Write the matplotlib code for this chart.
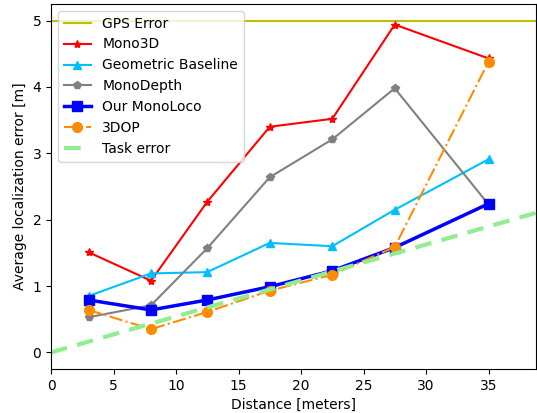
import numpy as np
import matplotlib
matplotlib.use("Agg")
import matplotlib.pyplot as plt

dist = [3, 8, 12.5, 17.5, 22.5, 27.5, 35]
mono3d = [1.51, 1.08, 2.27, 3.40, 3.52, 4.94, 4.43]
geometric = [0.85, 1.19, 1.21, 1.65, 1.60, 2.15, 2.91]
monodepth = [0.53, 0.71, 1.57, 2.64, 3.21, 3.98, 2.23]
monoloco = [0.79, 0.64, 0.79, 0.99, 1.23, 1.58, 2.24]
dop3 = [0.64, 0.35, 0.61, 0.93, 1.17, 1.59, 4.38]
gps_err = 5.0
task_slope = 0.0542

fig = plt.figure(figsize=(5.37, 4.13), dpi=100)
ax = fig.add_axes([51/537, 44/413, 485/537, 365/413])

xx = np.array([0, 40])
ax.axhline(gps_err, color='y', lw=1.5, label='GPS Error')
ax.plot(dist, mono3d, color='r', marker='*', ms=6, lw=1.5, label='Mono3D')
ax.plot(dist, geometric, color='deepskyblue', marker='^', ms=6, lw=1.5, label='Geometric Baseline')
ax.plot(dist, monodepth, color='grey', marker='p', ms=6, lw=1.5, label='MonoDepth')
ax.plot(dist, monoloco, color='b', marker='s', ms=7, lw=2.5, label='Our MonoLoco')
ax.plot(dist, dop3, color='darkorange', marker='o', ms=7, lw=1.5, ls='-.', label='3DOP')
ax.plot(xx, task_slope * xx, color='lightgreen', lw=3, ls=(0, (4, 2.5)), label='Task error')

ax.set_xlim(0, 38.8)
ax.set_ylim(-0.25, 5.25)
ax.set_xticks([0, 5, 10, 15, 20, 25, 30, 35])
ax.set_yticks([0, 1, 2, 3, 4, 5])
ax.set_xlabel('Distance [meters]')
ax.set_ylabel('Average localization error [m]')
ax.legend(loc='upper left')

fig.savefig('out.png', dpi=100)
